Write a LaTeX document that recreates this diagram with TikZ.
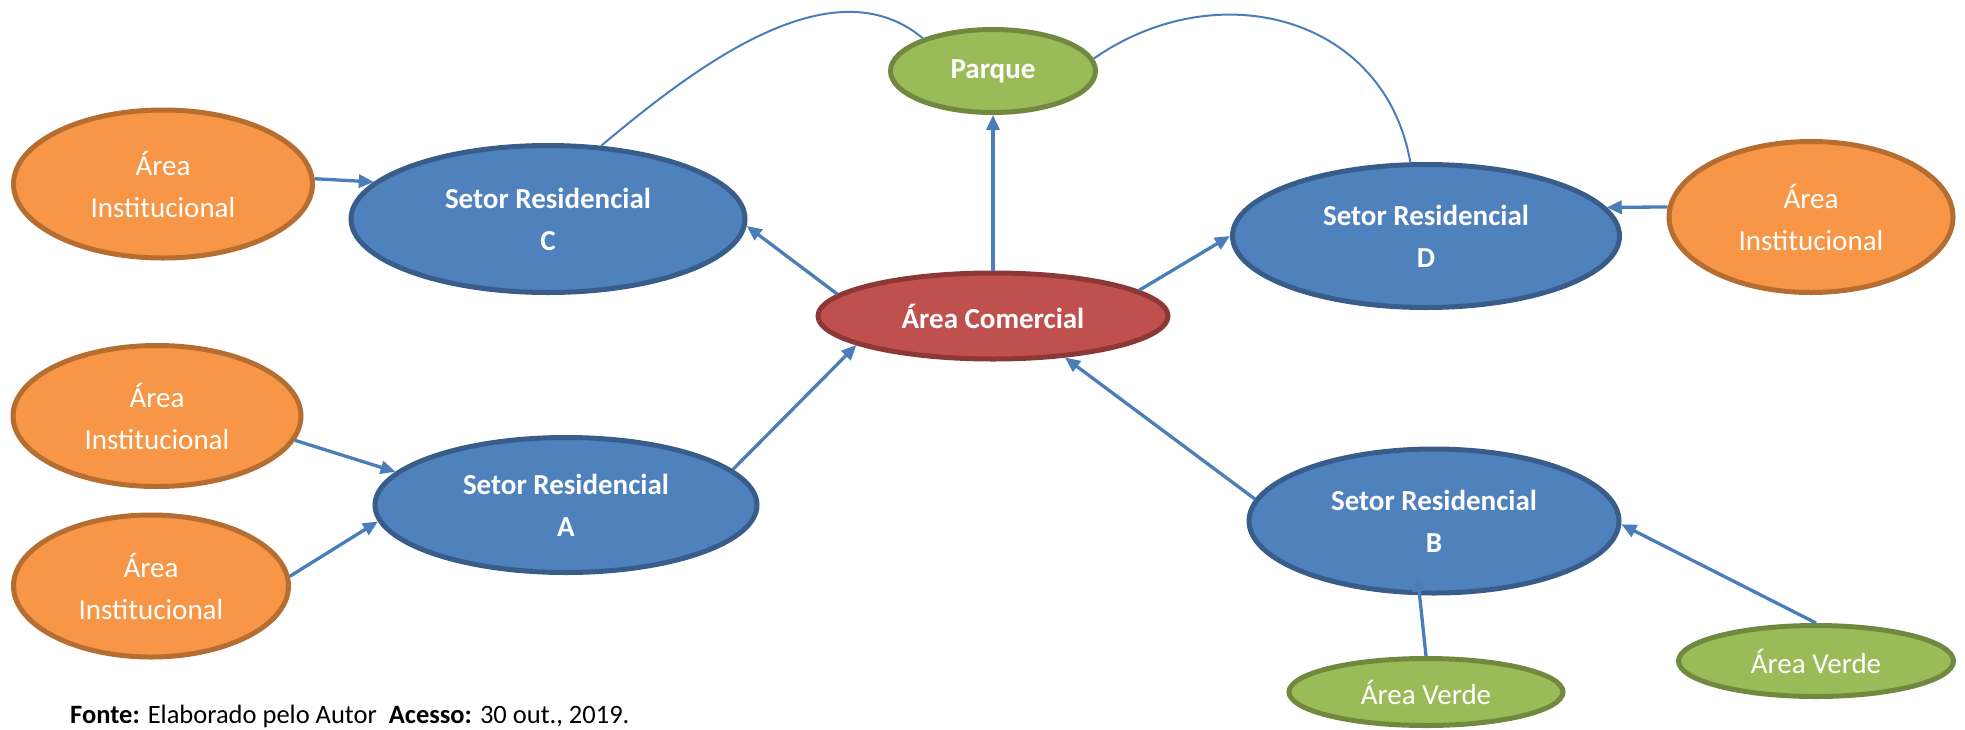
\documentclass[tikz,border=0pt]{standalone}
\usepackage{fontspec}
\setmainfont{Carlito}
\usetikzlibrary{positioning, shapes.geometric, arrows.meta}
\definecolor{instfill}{HTML}{F79646}
\definecolor{instline}{HTML}{B66D31}
\definecolor{setorfill}{HTML}{4F81BD}
\definecolor{setorline}{HTML}{385D8A}
\definecolor{comfill}{HTML}{C0504D}
\definecolor{comline}{HTML}{8C3836}
\definecolor{verdefill}{HTML}{9BBB59}
\definecolor{verdeline}{HTML}{71893F}
\definecolor{conn}{HTML}{4A7EBB}
\tikzset{
  zone/.style={
    ellipse,
    line width=5pt,
    inner sep=0pt,
    text=white,
    align=center,
    font=\fontsize{29}{42}\selectfont
  },
  inst/.style={zone, draw=instline, fill=instfill},
  setor/.style={zone, draw=setorline, fill=setorfill,
    font=\fontsize{29}{42}\selectfont\bfseries},
  comercio/.style={zone, draw=comline, fill=comfill,
    font=\fontsize{29}{42}\selectfont\bfseries},
  verde/.style={zone, draw=verdeline, fill=verdefill},
  link/.style={->, draw=conn, line width=3.3pt},
  curva/.style={-, draw=conn, line width=2pt}
}

\begin{document}
\begin{tikzpicture}[>={Triangle[length=15pt, width=13pt]}, on grid]
        \useasboundingbox (0pt,0pt) rectangle (1965pt,-729pt);

        % Central area and park
        \node[comercio, minimum width=350pt, minimum height=86pt] (com) at (993pt,-316pt) {Área Comercial};
        \node[verde, minimum width=205pt, minimum height=83pt] (parque) [above=245pt of com] {\textbf{Parque}};

        % Residential sectors
        \node[setor, minimum width=394pt, minimum height=147pt] (sc) [above left=97pt and 445pt of com] {Setor Residencial\\C};
        \node[setor, minimum width=387pt, minimum height=143pt] (sd) [above right=80pt and 433pt of com] {Setor Residencial\\D};
        \node[setor, minimum width=382pt, minimum height=135pt] (sa) [below left=189pt and 427pt of com] {Setor Residencial\\A};
        \node[setor, minimum width=370pt, minimum height=144pt] (sb) [below right=205pt and 441pt of com] {Setor Residencial\\B};

        % Institutional areas
        \node[inst, minimum width=299pt, minimum height=148pt] (ic)  [above left=35pt and 385pt of sc] {Área\\Institucional};
        \node[inst, minimum width=284pt, minimum height=151pt] (id)  [above right=19pt and 385pt of sd] {Área\\Institucional};
        \node[inst, minimum width=288pt, minimum height=141pt] (ia1) [above left=89pt and 409pt of sa] {Área\\Institucional};
        \node[inst, minimum width=275pt, minimum height=142pt] (ia2) [below left=81pt and 415pt of sa] {Área\\Institucional};

        % Green areas
        \node[verde, minimum width=274pt, minimum height=67pt] (av1) [below left=171pt and 8pt of sb] {Área Verde};
        \node[verde, minimum width=275pt, minimum height=71pt] (av2) [below right=140pt and 382pt of sb] {Área Verde};

        % Source line
        \node[anchor=base west, inner sep=0pt, font=\fontsize{26.5}{30}\selectfont] (fonte) at (70pt,-723pt)
            {\textbf{Fonte:} Elaborado pelo Autor\ \ \textbf{Acesso:} 30 out., 2019.};

        % Arrows between areas
        \path (ic.2)      edge[link] (sc.168);
        \path (com.172)   edge[link] (sc.358);
        \path (com)       edge[link] (parque);
        \path (com.10)    edge[link] (sd.180);
        \path (id.176)    edge[link] (sd.9);
        \path (sa.12)     edge[link] (com.192);
        \path (sb.173)    edge[link] (com.330);
        \path (ia1.350)   edge[link] (sa.169);
        \path (ia2.4)     edge[link] (sa.185);
        \path (av1.north) edge[link, shorten >=-19pt] (sb.259);
        \path (av2.north) edge[link] (sb.359);

        % Lines to the park
        \path (sc.54)     edge[curva, out=40, in=140, looseness=0.9] (parque.155);
        \path (parque.7)  edge[curva, out=35, in=100, looseness=1.15] (sd.102);
\end{tikzpicture}
\end{document}
